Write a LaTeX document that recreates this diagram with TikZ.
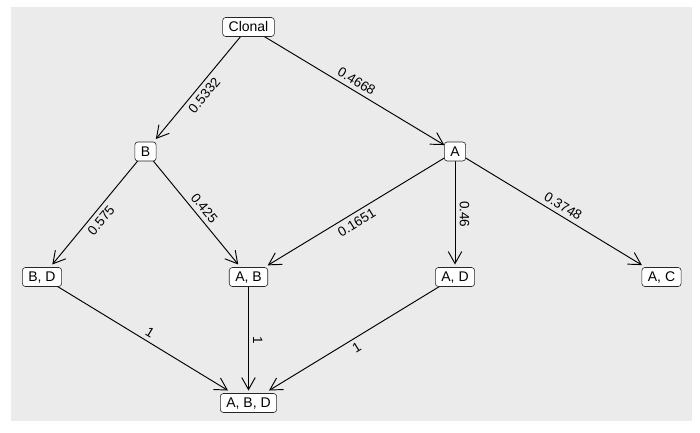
\documentclass[tikz,border=0pt]{standalone}
\usepackage{fontspec}
\setmainfont{Liberation Sans}
\usetikzlibrary{arrows.meta}
\pgfdeclarelayer{panel}
\pgfdeclarelayer{links}
\pgfsetlayers{panel,links,main}
\definecolor{panelgrey}{HTML}{EBEBEB}
\begin{document}
\begin{tikzpicture}[x=1pt,y=-1pt,
  state/.style={draw=black!85, line width=0.6pt, fill=white, rounded corners=3pt,
    font=\fontsize{14}{14}\selectfont, inner xsep=6pt, inner ysep=0pt,
    minimum height=19pt, text height=10pt, text depth=1pt,
    outer xsep=0pt, outer ysep=3pt},
  link/.style={line width=0.95pt, -{Straight Barb[length=12pt,width=13.5pt]}},
  weight/.style={font=\fontsize{13.5}{13.5}\selectfont, sloped, inner sep=0pt}]
\useasboundingbox (0,0) rectangle (700,432);
\begin{pgfonlayer}{panel}
  \fill[panelgrey] (11,7) rectangle (692,421);
\end{pgfonlayer}

% states
\node[state] (clonal) at (248.5,27)  {Clonal};
\node[state] (nB)     at (145.5,151.5) {B};
\node[state] (nA)     at (455,151.5) {A};
\node[state] (nBD)    at (42,277)    {B, D};
\node[state] (nAB)    at (248.5,277) {A, B};
\node[state] (nAD)    at (455,277)   {A, D};
\node[state] (nAC)    at (661.5,277) {A, C};
\node[state] (nABD)   at (248.5,403) {A, B, D};

% transitions
\begin{pgfonlayer}{links}
  \draw[link] (clonal.center) -- (nB);
  \draw[link] (clonal.center) -- (nA);
  \draw[link] (nB.center) -- (nBD);
  \draw[link] (nB.center) -- (nAB);
  \draw[link] (nA.center) -- (nAB);
  \draw[link] (nA.center) -- (nAD);
  \draw[link] (nA.center) -- (nAC);
  \draw[link] (nBD.center) -- (nABD);
  \draw[link] (nAB.center) -- (nABD);
  \draw[link] (nAD.center) -- (nABD);
\end{pgfonlayer}

% transition weights
\path (clonal.center) -- node[weight, below=4.5pt] {0.5332} (nB.center);
\path (clonal.center) -- node[weight, above=4.5pt] {0.4668} (nA.center);
\path (nB.center) -- node[weight, below=4.5pt] {0.575} (nBD.center);
\path (nB.center) -- node[weight, above=4.5pt] {0.425} (nAB.center);
\path (nA.center) -- node[weight, below=4.5pt] {0.1651} (nAB.center);
\path (nA.center) -- node[weight, above=4.5pt] {0.46} (nAD.center);
\path (nA.center) -- node[weight, above=4.5pt] {0.3748} (nAC.center);
\path (nBD.center) -- node[weight, above=4.5pt] {1} (nABD.center);
\path (nAB.center) -- node[weight, above=4.5pt] {1} (nABD.center);
\path (nAD.center) -- node[weight, below=4.5pt] {1} (nABD.center);
\end{tikzpicture}
\end{document}
